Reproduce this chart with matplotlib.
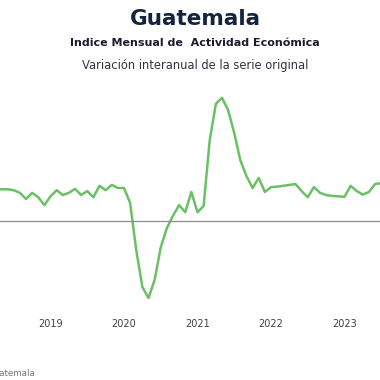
import numpy as np
from matplotlib import pyplot as plt

# Monthly year-on-year change of the IMAE (%), Jan 2018 .. Jul 2023
months = np.arange(67)
imae_yoy = [3.6, 3.6, 3.6, 3.7, 3.6, 3.6, 3.5, 3.2,   # 2018 Jan-Aug
            2.5, 3.2, 2.7, 1.8,                       # 2018 Sep-Dec
            2.8, 3.5, 2.95, 3.2, 3.65, 2.95, 3.4, 2.7, 4.0, 3.5, 4.1, 3.75,   # 2019
            3.75, 2.05, -3.3, -7.5, -8.75, -6.7, -3.0, -0.8, 0.6, 1.8, 1.0, 3.3,   # 2020
            1.0, 1.7, 9.2, 13.3, 14.0, 12.6, 10.0, 6.9, 5.1, 3.75, 4.9, 3.3,   # 2021
            3.85, 3.9, 4.0, 4.1, 4.2, 3.4, 2.7, 3.85, 3.2, 2.95, 2.85, 2.8,   # 2022
            2.75, 4.0, 3.4, 3.0, 3.3, 4.2, 4.3]               # 2023 Jan-Jul
year_ticks = [12, 24, 36, 48, 60]
year_labels = ['2019', '2020', '2021', '2022', '2023']

fig = plt.figure(figsize=(3.8, 3.8), dpi=100)
ax = fig.add_axes([0, 68 / 380, 1, 232 / 380])

ax.plot(months, imae_yoy, color='#6cc064', linewidth=1.8, solid_capstyle='round')
ax.axhline(0, color='#8c8c8c', linewidth=0.9)

ax.set_xlim(3.755, 65.8)
ax.set_ylim(-10.34, 16.02)
ax.set_xticks(year_ticks)
ax.set_xticklabels(year_labels)
ax.set_yticks([])
ax.tick_params(axis='x', length=0, pad=5, labelsize=7, labelcolor='#404040')
for s in ax.spines.values():
    s.set_visible(False)

fig.text(0.513, 1 - 19 / 380, 'Guatemala', ha='center', va='center',
         fontsize=15.5, fontweight='bold', color='#14243f')
fig.text(0.513, 1 - 43 / 380, 'Indice Mensual de  Actividad Económica', ha='center',
         va='center', fontsize=8, fontweight='bold', color='#1c1c30')
fig.text(0.513, 1 - 65 / 380, 'Variación interanual de la serie original', ha='center',
         va='center', fontsize=8.3, color='#333344')
fig.text(35 / 380, 1 - 373 / 380, 'Fuente: Banco de Guatemala', ha='right', va='center',
         fontsize=6.3, color='#777777')

fig.savefig('out.png', dpi=100)
